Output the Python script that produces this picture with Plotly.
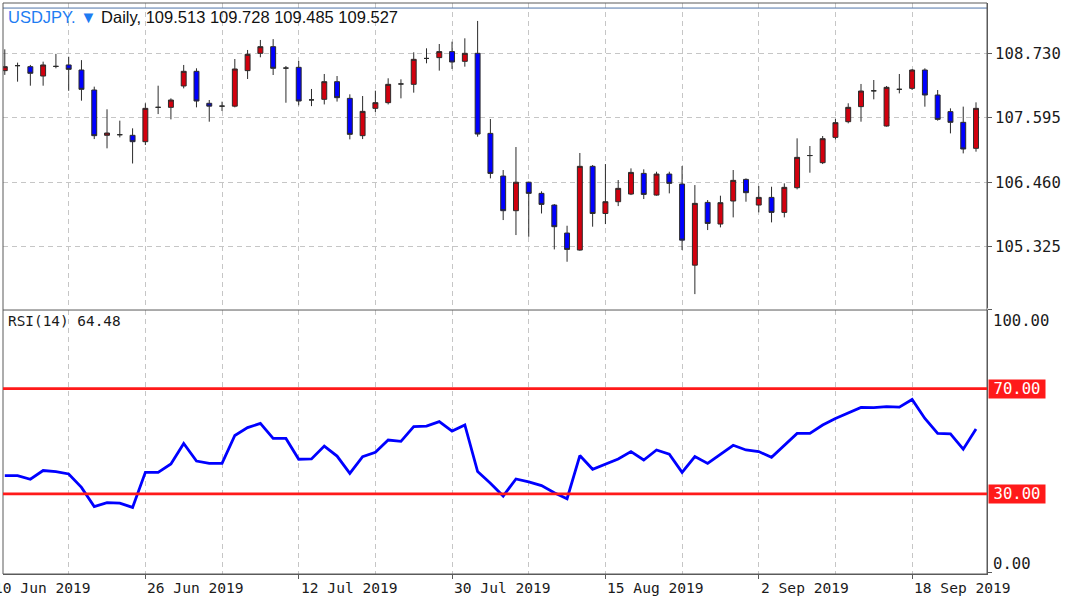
import plotly.graph_objects as go

# ---------------- data ----------------
open_ = [108.425, 108.513, 108.495, 108.33, 108.50, 108.525, 108.436, 108.084, 107.286, 107.297,
         107.286, 107.174, 107.779, 107.779, 108.155, 108.413, 107.85, 107.80, 107.80, 108.425,
         108.73, 108.847, 108.47, 108.483, 107.91, 107.92, 108.231, 107.937, 107.28, 107.761,
         107.861, 108.19, 108.184, 108.64, 108.654, 108.76, 108.589, 108.73, 107.32, 106.569,
         105.959, 106.46, 106.264, 106.058, 105.565, 105.266, 106.74, 105.91, 106.117, 106.252,
         106.616, 106.234, 106.604, 106.428, 105.0, 106.105, 105.724, 106.129, 106.51, 106.058,
         106.193, 105.929, 106.364, 106.93, 106.804, 107.25, 107.526, 107.791, 108.07, 107.45,
         108.096, 108.113, 108.436, 107.996, 107.703, 107.515, 107.057]
high = [108.80, 108.566, 108.525, 108.583, 108.72, 108.67, 108.61, 108.143, 107.744, 107.544,
        107.409, 107.85, 108.16, 107.937, 108.525, 108.466, 107.908, 107.879, 108.63, 108.789,
        108.965, 108.98, 108.507, 108.595, 108.102, 108.366, 108.33, 108.008, 107.978, 108.072,
        108.29, 108.272, 108.748, 108.818, 108.894, 108.935, 108.994, 109.30, 107.573, 106.675,
        107.08, 106.47, 106.30, 106.076, 105.694, 106.975, 106.763, 106.78, 106.499, 106.704,
        106.687, 106.645, 106.645, 106.745, 106.41, 106.146, 106.223, 106.675, 106.528, 106.393,
        106.381, 106.44, 107.233, 107.098, 107.274, 107.579, 107.85, 108.19, 108.26, 108.155,
        108.366, 108.454, 108.466, 108.084, 107.761, 107.791, 107.867]
low = [108.35, 108.231, 108.16, 108.16, 108.466, 108.07, 107.896, 107.22, 107.057, 107.25,
       106.79, 107.115, 107.66, 107.567, 108.113, 107.779, 107.526, 107.714, 107.779, 108.278,
       108.66, 108.348, 107.86, 107.814, 107.80, 107.83, 107.88, 107.215, 107.22, 107.697,
       107.83, 107.937, 108.037, 108.554, 108.425, 108.454, 108.495, 107.262, 106.528, 105.794,
       105.53, 105.50, 105.91, 105.277, 105.06, 105.254, 105.677, 105.723, 106.04, 106.234,
       106.164, 106.223, 106.264, 105.266, 104.49, 105.618, 105.665, 105.841, 106.117, 105.929,
       105.753, 105.841, 106.335, 106.628, 106.78, 107.215, 107.497, 107.526, 107.92, 107.44,
       108.025, 108.084, 107.79, 107.544, 107.32, 106.968, 106.998]
close = [108.495, 108.513, 108.378, 108.525, 108.50, 108.448, 108.096, 107.28, 107.327, 107.297,
         107.174, 107.761, 107.779, 107.908, 108.413, 107.89, 107.80, 107.80, 108.454, 108.712,
         108.847, 108.466, 108.47, 107.89, 107.91, 108.231, 107.949, 107.303, 107.708, 107.861,
         108.184, 108.19, 108.624, 108.64, 108.76, 108.577, 108.73, 107.309, 106.616, 105.959,
         106.46, 106.264, 106.07, 105.677, 105.277, 106.74, 105.91, 106.117, 106.352, 106.633,
         106.246, 106.604, 106.44, 105.44, 106.088, 105.735, 106.1, 106.493, 106.276, 106.193,
         105.929, 106.37, 106.898, 106.93, 107.227, 107.509, 107.779, 108.066, 108.07, 108.131,
         108.096, 108.436, 107.996, 107.567, 107.515, 107.045, 107.761]
rsi = [37.0, 37.0, 35.6, 38.9, 38.5, 37.6, 32.5, 25.2, 26.7, 26.5,
       24.9, 38.2, 38.2, 41.4, 49.2, 42.5, 41.6, 41.6, 52.2, 55.2,
       56.8, 51.1, 51.1, 43.2, 43.3, 48.2, 44.4, 37.8, 44.2, 45.8,
       50.5, 50.0, 55.6, 55.8, 57.5, 53.9, 56.2, 38.5, 34.1, 29.2,
       35.7, 34.6, 33.2, 30.5, 28.2, 44.6, 39.4, 41.3, 43.3, 46.1,
       42.9, 46.7, 45.1, 38.2, 44.2, 41.6, 45.1, 48.5, 46.7, 46.1,
       43.9, 48.5, 53.0, 53.0, 56.2, 58.7, 60.9, 62.9, 62.8, 63.2,
       63.0, 65.9, 58.7, 53.0, 52.8, 47.0, 54.7]

price_ticks = [105.325, 106.460, 107.595, 108.730]
rsi_levels = [30, 70]
rsi_ticks = [0, 100]
date_labels = ["10 Jun 2019", "26 Jun 2019", "12 Jul 2019", "30 Jul 2019",
               "15 Aug 2019", "2 Sep 2019", "18 Sep 2019"]
date_label_bar = [-1, 11, 23, 35, 47, 59, 71]   # bar index (11 Jun 2019 = 0)
bid_price = 109.527
header_symbol = "USDJPY. \u25BC"
header_rest = " Daily, 109.513 109.728 109.485 109.527"
rsi_title = "RSI(14) 64.48"

# ---------------- figure ----------------
x = list(range(len(close)))
XR = [-0.14, 76.86]
MONO = "DejaVu Sans Mono"
GRID = dict(showgrid=True, gridcolor="#c6c6c6", gridwidth=1, griddash="5px,4px")

fig = go.Figure()
fig.add_trace(go.Candlestick(
    x=x, open=open_, high=high, low=low, close=close,
    xaxis="x", yaxis="y", whiskerwidth=0, hoverinfo="skip",
    increasing=dict(fillcolor="#d2000e", line=dict(color="#2b2b2b", width=1)),
    decreasing=dict(fillcolor="#0000ff", line=dict(color="#2b2b2b", width=1)),
))
fig.add_trace(go.Scatter(
    x=x, y=rsi, xaxis="x2", yaxis="y2", mode="lines", hoverinfo="skip",
    line=dict(color="#0000ff", width=2.8),
))

shapes = [
    dict(type="line", xref="paper", yref="y", x0=0, x1=1, y0=bid_price, y1=bid_price,
         line=dict(color="#4f74a8", width=1)),
    dict(type="rect", xref="paper", yref="paper", x0=0, x1=1, y0=0, y1=1,
         line=dict(color="#5a5a5a", width=1)),
    dict(type="line", xref="paper", yref="paper", x0=0, x1=1, y0=0.4623, y1=0.4623,
         line=dict(color="#5a5a5a", width=1)),
]
for lv in rsi_levels:
    shapes.append(dict(type="line", xref="paper", yref="y2", x0=0, x1=1, y0=lv, y1=lv,
                       line=dict(color="#ff1a1a", width=2.8)))

annotations = [
    dict(xref="paper", yref="paper", x=0, y=(574 - 17) / 571, xshift=3,
         xanchor="left", yanchor="middle", showarrow=False,
         text=f"<span style='color:#1e7cf2'>{header_symbol}</span>{header_rest}",
         font=dict(family="Liberation Sans", size=16.5, color="#111111")),
    dict(xref="paper", yref="paper", x=0, y=(574 - 321) / 571, xshift=3,
         xanchor="left", yanchor="middle", showarrow=False, text=rsi_title,
         font=dict(family=MONO, size=14.4, color="#1a1a1a")),
    dict(xref="paper", yref="y2", x=1, y=rsi_ticks[1], xshift=4, yshift=-11,
         xanchor="left", yanchor="middle", showarrow=False, text=f"{rsi_ticks[1]:.2f}",
         font=dict(family=MONO, size=15.6, color="#1a1a1a")),
    dict(xref="paper", yref="y2", x=1, y=rsi_ticks[0], xshift=4, yshift=9,
         xanchor="left", yanchor="middle", showarrow=False, text=f"{rsi_ticks[0]:.2f}",
         font=dict(family=MONO, size=15.6, color="#1a1a1a")),
]
for lv in rsi_levels:
    annotations.append(dict(
        xref="paper", yref="y2", x=1, y=lv, xshift=1, xanchor="left", yanchor="middle",
        showarrow=False, text=f"{lv:.2f}", bgcolor="#ff1a1a", borderpad=0,
        width=56, height=18, align="center", valign="middle",
        font=dict(family=MONO, size=15.6, color="#ffffff")))
for b, lab in zip(date_label_bar, date_labels):
    annotations.append(dict(
        xref="paper", yref="paper", x=(b - XR[0]) / (XR[1] - XR[0]), y=(574 - 587) / 571,
        xanchor="left", yanchor="middle", showarrow=False, text=lab,
        font=dict(family=MONO, size=14.6, color="#1a1a1a")))

fig.update_layout(
    width=1066, height=600,
    margin=dict(l=3, r=79, t=3, b=26),
    paper_bgcolor="white", plot_bgcolor="white",
    showlegend=False, hovermode=False, boxgap=0.45,
    xaxis=dict(domain=[0, 1], range=XR, anchor="y", tickmode="linear", tick0=-1, dtick=6,
               showticklabels=False, ticks="", zeroline=False, showline=False,
               rangeslider=dict(visible=False), **GRID),
    xaxis2=dict(domain=[0, 1], range=XR, anchor="y2", tickmode="linear", tick0=-1, dtick=12,
                showticklabels=False, ticks="outside", ticklen=4, tickcolor="#5a5a5a",
                zeroline=False, showline=True, linecolor="#5a5a5a",
                minor=dict(tickmode="linear", tick0=-1, dtick=6, ticks="", showgrid=True,
                           gridcolor="#c6c6c6", griddash="5px,4px"),
                **GRID),
    yaxis=dict(domain=[0.4658, 1], range=[104.245, 109.616], anchor="x", side="right",
               tickmode="array", tickvals=price_ticks, ticktext=[f"{t:.3f}" for t in price_ticks],
               ticks="outside", ticklen=4, tickcolor="#5a5a5a", showline=True,
               linecolor="#5a5a5a", zeroline=False,
               tickfont=dict(family=MONO, size=15.6, color="#1a1a1a"), **GRID),
    yaxis2=dict(domain=[0, 0.4629], range=[-0.4, 100], anchor="x2", side="right",
                tickmode="array", tickvals=rsi_ticks, showticklabels=False,
                ticks="outside", ticklen=4, tickcolor="#5a5a5a", showline=True,
                linecolor="#5a5a5a", zeroline=False, showgrid=False),
    shapes=shapes, annotations=annotations,
)

fig.write_html("out.html")
